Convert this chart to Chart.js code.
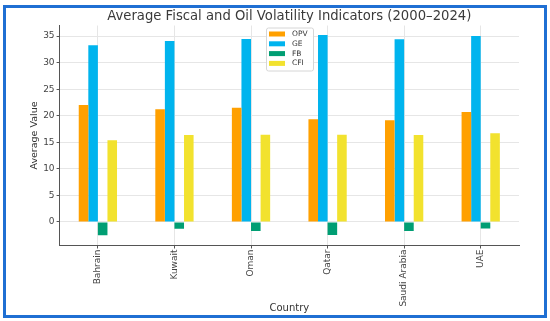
<!DOCTYPE html>
<html>
<head>
<meta charset="utf-8">
<script src="https://cdn.jsdelivr.net/npm/chart.js@4/dist/chart.umd.min.js"></script>
<style>
  html, body { margin: 0; padding: 0; background: #fff; }
  #wrap { position: relative; width: 550px; height: 321px; }
  #frame {
    position: absolute; left: 3px; top: 5px; width: 544px; height: 313px;
    border: 3px solid #1f6fd3; box-sizing: border-box; pointer-events: none;
  }
</style>
</head>
<body>
<div id="wrap">
  <canvas id="chart" width="550" height="321"></canvas>
  <div id="frame"></div>
</div>
<script>
const chartTitle = "Average Fiscal and Oil Volatility Indicators (2000–2024)";
const countries = ["Bahrain", "Kuwait", "Oman", "Qatar", "Saudi Arabia", "UAE"];
const opv = [22.0, 21.2, 21.5, 19.35, 19.15, 20.7];
const ge = [33.3, 34.1, 34.45, 35.2, 34.4, 35.0];
const fb = [-2.5, -1.3, -1.7, -2.45, -1.7, -1.25];
const cfi = [15.4, 16.35, 16.4, 16.4, 16.35, 16.7];
const yTicks = [0, 5, 10, 15, 20, 25, 30, 35];
const yMin = -4.45;
const yMax = 37.0;

const font = "'DejaVu Sans', sans-serif";

// title centred over the plot area, like matplotlib does
const plotTitle = {
  id: "plotTitle",
  afterDraw(chart) {
    const ctx = chart.ctx;
    const area = chart.chartArea;
    ctx.save();
    ctx.font = "13.2px " + font;
    ctx.fillStyle = "#3a3a3a";
    ctx.textAlign = "center";
    ctx.textBaseline = "middle";
    ctx.fillText(chartTitle, (area.left + area.right) / 2, 17);
    ctx.restore();
  }
};

// matplotlib style legend box drawn over the bars
const legendBox = {
  id: "legendBox",
  afterDatasetsDraw(chart) {
    const ctx = chart.ctx;
    const x = 266, y = 27.5, w = 47, h = 43;
    ctx.save();
    ctx.fillStyle = "rgba(255,255,255,0.85)";
    ctx.strokeStyle = "#d6d6d6";
    ctx.lineWidth = 1;
    ctx.beginPath();
    ctx.roundRect(x + 0.5, y + 0.5, w, h, 2);
    ctx.fill();
    ctx.stroke();
    ctx.font = "7.5px " + font;
    ctx.textBaseline = "middle";
    chart.data.datasets.forEach((ds, i) => {
      const cy = y + 6.5 + i * 9.8;
      ctx.fillStyle = ds.backgroundColor;
      ctx.fillRect(x + 3, cy - 2.5, 16, 5);
      ctx.fillStyle = "#333";
      ctx.fillText(ds.label, x + 26, cy);
    });
    ctx.restore();
  }
};

new Chart(document.getElementById("chart"), {
  type: "bar",
  data: {
    labels: countries,
    datasets: [
      { label: "OPV", data: opv, backgroundColor: "#FFA000" },
      { label: "GE", data: ge, backgroundColor: "#00B4EE" },
      { label: "FB", data: fb, backgroundColor: "#009E73" },
      { label: "CFI", data: cfi, backgroundColor: "#F2E22E" },
    ],
  },
  options: {
    responsive: false,
    animation: false,
    devicePixelRatio: 1,
    layout: { padding: { left: 29, right: 31, top: 25.5, bottom: 7 } },
    datasets: { bar: { categoryPercentage: 0.5, barPercentage: 1.0 } },
    plugins: {
      legend: { display: false },
      tooltip: { enabled: false },
      title: { display: false },
    },
    scales: {
      x: {
        offset: true,
        grid: { offset: false, color: "#e6e6e6", tickColor: "#555", tickLength: 3 },
        border: { display: true, color: "#555", width: 1 },
        ticks: {
          color: "#444",
          font: { family: font, size: 9 },
          minRotation: 90,
          maxRotation: 90,
          padding: 1,
          autoSkip: false,
        },
        title: {
          display: true,
          text: "Country",
          color: "#333",
          font: { family: font, size: 10 },
          padding: 0,
        },
        afterFit(scale) { scale.height = 68.5; },
      },
      y: {
        min: yMin,
        max: yMax,
        afterBuildTicks(scale) { scale.ticks = yTicks.map(v => ({ value: v })); },
        grid: { color: "#e6e6e6", tickColor: "#555", tickLength: 3 },
        border: { display: true, color: "#555", width: 1 },
        ticks: {
          color: "#444",
          font: { family: font, size: 9 },
          padding: 2,
        },
        title: {
          display: true,
          text: "Average Value",
          color: "#333",
          font: { family: font, size: 9.5 },
          padding: 0,
        },
        afterFit(scale) { scale.width = 30.6; },
      },
    },
  },
  plugins: [plotTitle, legendBox],
});
</script>
</body>
</html>
